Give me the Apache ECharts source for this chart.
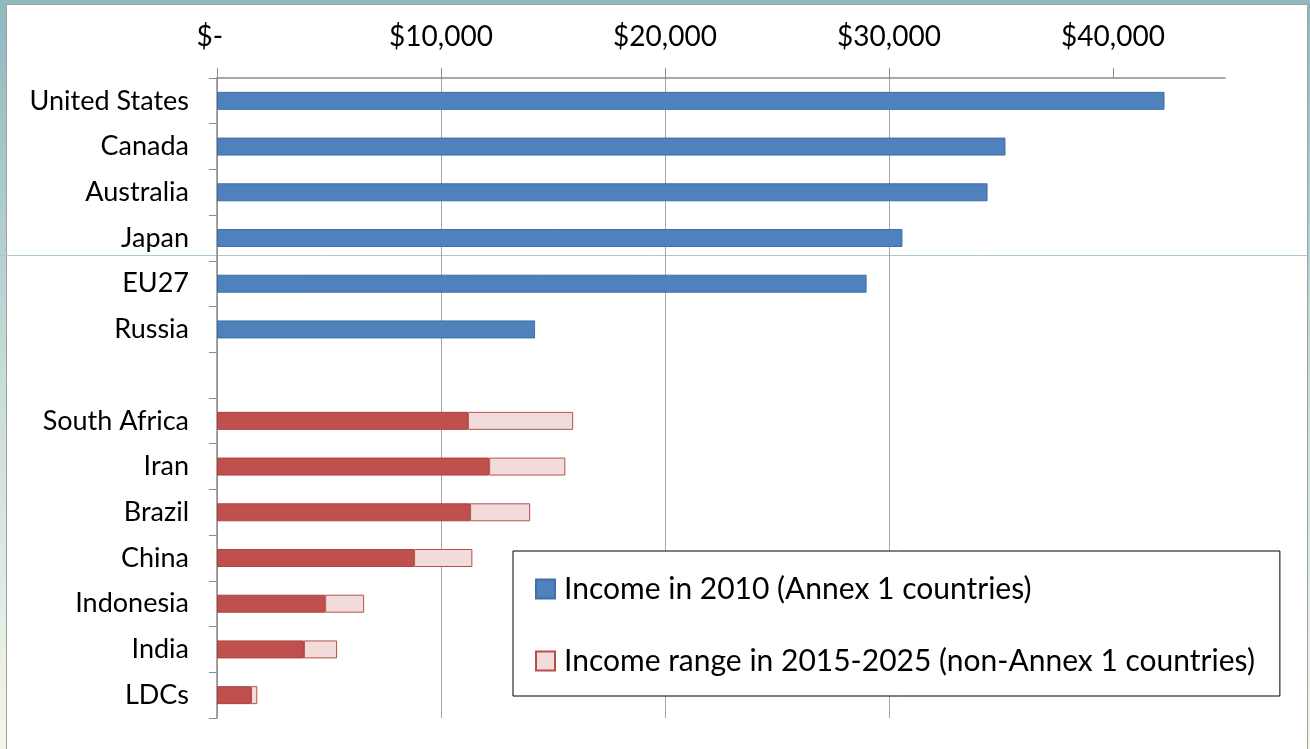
<!DOCTYPE html>
<html>
<head>
<meta charset="utf-8">
<script src="https://cdn.jsdelivr.net/npm/echarts@6/dist/echarts.min.js"></script>
<style>
  html, body { margin: 0; padding: 0; background: #ffffff; }
  #chart { width: 1310px; height: 749px; }
</style>
</head>
<body>
<div id="chart"></div>
<script>
// Per-capita income, US dollars
const categories = ['United States', 'Canada', 'Australia', 'Japan', 'EU27', 'Russia', '',
  'South Africa', 'Iran', 'Brazil', 'China', 'Indonesia', 'India', 'LDCs'];

// Annex 1 countries: income in 2010
const income2010 = [42300, 35200, 34400, 30600, 29000, 14200, null,
  null, null, null, null, null, null, null];

// Non-Annex 1 countries: lower end of the 2015-2025 range
const rangeLow = [null, null, null, null, null, null, null,
  11200, 12150, 11300, 8800, 4830, 3880, 1520];

// Non-Annex 1 countries: upper end of the 2015-2025 range
const rangeHigh = [null, null, null, null, null, null, null,
  15900, 15550, 13980, 11400, 6570, 5360, 1800];

const xTicks = [0, 10000, 20000, 30000, 40000];

const rangeSpan = rangeHigh.map((h, i) => (h == null || rangeLow[i] == null) ? null : h - rangeLow[i]);

const FONT = 'Lato, "Open Sans", sans-serif';

function money(v) {
  if (v === 0) return '$-  ';
  return '$' + v.toLocaleString('en-US');
}

const chart = echarts.init(document.getElementById('chart'), null, { renderer: 'canvas' });

const frameFill = () => new echarts.graphic.LinearGradient(0, 0, 0, 1, [
  { offset: 0, color: '#8fb8bf' }, { offset: 0.5, color: '#c8dcd8' }, { offset: 1, color: '#f4f6ec' }]);

chart.setOption({
  animation: false,
  backgroundColor: '#ffffff',
  textStyle: { fontFamily: FONT },
  graphic: [
    // slide frame
    { type: 'rect', z: -10, shape: { x: 0, y: 0, width: 1310, height: 4 }, style: { fill: '#8fb8bf' } },
    { type: 'rect', z: -10, shape: { x: 0, y: 0, width: 6, height: 749 }, style: { fill: frameFill() } },
    { type: 'rect', z: -10, shape: { x: 1308, y: 0, width: 2, height: 749 }, style: { fill: frameFill() } },
    { type: 'line', z: -9, shape: { x1: 6.5, y1: 4, x2: 6.5, y2: 749 }, style: { stroke: '#a0a0a0', lineWidth: 1 } },
    { type: 'line', z: -9, shape: { x1: 1307.5, y1: 4, x2: 1307.5, y2: 749 }, style: { stroke: '#a0a0a0', lineWidth: 1 } },
    { type: 'line', z: -9, shape: { x1: 6, y1: 4.5, x2: 1308, y2: 4.5 }, style: { stroke: '#a0a0a0', lineWidth: 1 } },
    { type: 'line', z: -9, shape: { x1: 0, y1: 255.5, x2: 1307, y2: 255.5 }, style: { stroke: '#a8ccd0', lineWidth: 1 } }
  ],
  grid: { left: 217, top: 78, right: 85, bottom: 31, containLabel: false },
  legend: {
    orient: 'vertical',
    left: 513,
    top: 551,
    padding: [23, 25, 20, 22],
    itemGap: 42,
    itemWidth: 19,
    itemHeight: 19,
    icon: 'rect',
    backgroundColor: '#ffffff',
    borderColor: '#000000',
    borderWidth: 1,
    data: ['Income in 2010 (Annex 1 countries)', 'Income range in 2015-2025 (non-Annex 1 countries)'],
    textStyle: { fontFamily: FONT, fontSize: 30, color: '#000000', padding: [0, 0, 0, 4] }
  },
  xAxis: {
    type: 'value',
    position: 'top',
    min: 0,
    max: 45000,
    interval: 10000,
    axisLine: { show: true, lineStyle: { color: '#8c8c8c', width: 1.5 } },
    axisTick: { show: true, inside: false, length: 10, customValues: xTicks, lineStyle: { color: '#8c8c8c' } },
    splitLine: { show: true, showMaxLine: false, lineStyle: { color: '#a6a6a6', width: 1 } },
    axisLabel: {
      margin: 27,
      fontFamily: FONT,
      fontSize: 28,
      color: '#000000',
      formatter: function (v) { return xTicks.indexOf(v) >= 0 ? money(v) : ''; }
    }
  },
  yAxis: {
    type: 'category',
    inverse: true,
    data: categories,
    axisLine: { show: true, lineStyle: { color: '#8c8c8c', width: 1.5 } },
    axisTick: { show: true, inside: false, length: 8, alignWithLabel: false, lineStyle: { color: '#8c8c8c' } },
    axisLabel: { margin: 28, fontFamily: FONT, fontSize: 27, color: '#000000' }
  },
  series: [
    {
      name: 'Income in 2010 (Annex 1 countries)',
      type: 'bar',
      stack: 'income',
      data: income2010,
      barWidth: 18,
      itemStyle: { color: '#4f81bd', borderColor: '#3f6fa8', borderWidth: 1 }
    },
    {
      name: 'Income floor',
      type: 'bar',
      stack: 'income',
      data: rangeLow,
      barWidth: 18,
      itemStyle: { color: '#c0504d', borderColor: '#a84442', borderWidth: 1 }
    },
    {
      name: 'Income range in 2015-2025 (non-Annex 1 countries)',
      type: 'bar',
      stack: 'income',
      data: rangeSpan,
      barWidth: 18,
      itemStyle: { color: '#f2dcdb', borderColor: '#b84e4b', borderWidth: 1 }
    }
  ]
});
</script>
</body>
</html>
